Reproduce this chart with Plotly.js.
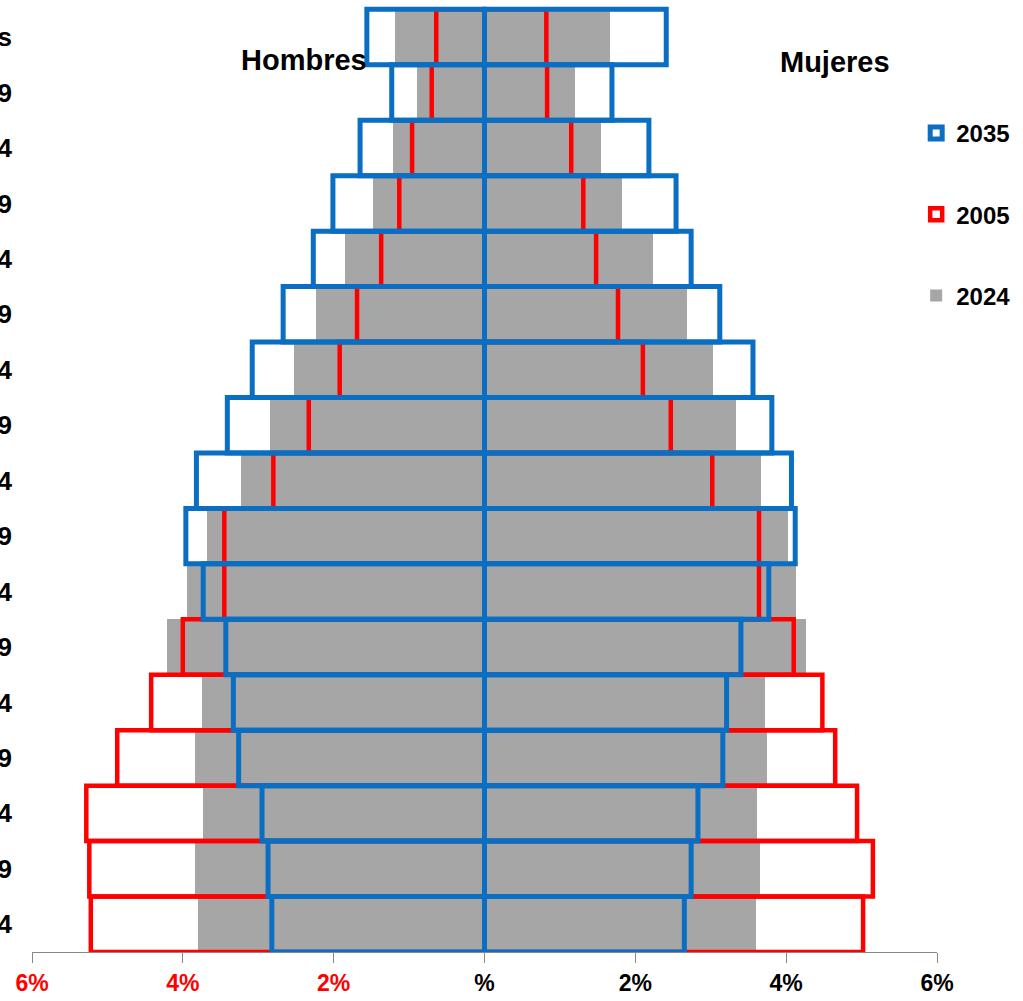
<!DOCTYPE html>
<html>
<head>
<meta charset="utf-8">
<script src="https://cdn.plot.ly/plotly-3.0.1.min.js"></script>
<style>html,body{margin:0;padding:0;background:#fff;}#chart{width:1023px;height:1001px;}</style>
</head>
<body>
<div id="chart"></div>
<script>
// Age groups, bottom to top
const ageGroups = ['0-4','5-9','10-14','15-19','20-24','25-29','30-34','35-39','40-44','45-49','50-54','55-59','60-64','65-69','70-74','75-79','80 y más'];

// Percent of total population (men drawn to the left)
const men2024   = [3.80, 3.84, 3.73, 3.84, 3.75, 4.21, 3.95, 3.68, 3.23, 2.84, 2.53, 2.24, 1.85, 1.48, 1.21, 0.90, 1.19];
const women2024 = [3.60, 3.65, 3.61, 3.75, 3.72, 4.26, 4.13, 4.03, 3.67, 3.34, 3.03, 2.68, 2.23, 1.82, 1.55, 1.20, 1.66];
const men2005   = [5.22, 5.24, 5.28, 4.87, 4.42, 4.00, 3.45, 3.45, 2.80, 2.33, 1.92, 1.69, 1.37, 1.13, 0.96, 0.70, 0.64];
const women2005 = [5.02, 5.15, 4.94, 4.65, 4.48, 4.10, 3.64, 3.64, 3.02, 2.47, 2.10, 1.77, 1.48, 1.31, 1.15, 0.83, 0.82];
const men2035   = [2.82, 2.87, 2.95, 3.26, 3.33, 3.43, 3.73, 3.96, 3.82, 3.41, 3.08, 2.67, 2.27, 2.01, 1.65, 1.23, 1.56];
const women2035 = [2.65, 2.74, 2.83, 3.16, 3.21, 3.40, 3.77, 4.12, 4.07, 3.81, 3.56, 3.12, 2.74, 2.54, 2.18, 1.69, 2.41];

const xTickVals = [-6, -4, -2, 0, 2, 4, 6];
const xTickText = ['<span style="color:#ff0000">6%</span>', '<span style="color:#ff0000">4%</span>', '<span style="color:#ff0000">2%</span>', '%', '2%', '4%', '6%'];

const FONT = 'Liberation Sans, Arial, sans-serif';
const GRAY = '#a6a6a6', RED = '#ff0000', BLUE = '#0a6ec2';
const neg = a => a.map(v => -v);

function bar(x, name, fill, line, lw, show, rank) {
  return {
    type: 'bar', orientation: 'h', x: x, y: ageGroups, width: 1,
    name: name, legendgroup: name, showlegend: show, legendrank: rank,
    marker: {color: fill, line: {color: line, width: lw}},
    hoverinfo: 'skip'
  };
}

const data = [
  bar(neg(men2024), '2024', GRAY, GRAY, 0, true, 3),
  bar(women2024, '2024', GRAY, GRAY, 0, false, 3),
  bar(neg(men2005), '2005', 'rgba(255,255,255,0)', RED, 4.5, true, 2),
  bar(women2005, '2005', 'rgba(255,255,255,0)', RED, 4.5, false, 2),
  bar(neg(men2035), '2035', 'rgba(255,255,255,0)', BLUE, 5, true, 1),
  bar(women2035, '2035', 'rgba(255,255,255,0)', BLUE, 5, false, 1)
];

const yRange = [-0.5, 16.56];

const layout = {
  width: 1023, height: 1001,
  margin: {l: 32, r: 86, t: 6, b: 49},
  paper_bgcolor: '#ffffff', plot_bgcolor: '#ffffff',
  barmode: 'overlay', bargap: 0,
  font: {family: FONT, color: '#000'},
  xaxis: {
    range: [-6, 6], tickmode: 'array', tickvals: xTickVals, ticktext: xTickText,
    showgrid: false, zeroline: false, showline: true, linecolor: '#888888', linewidth: 1,
    ticks: 'outside', ticklen: 10, tickcolor: '#888888',
    tickfont: {family: FONT, size: 23, weight: 700, color: '#000'}
  },
  yaxis: {
    type: 'category', categoryorder: 'array', categoryarray: ageGroups,
    range: yRange, showgrid: false, zeroline: false, showline: false, ticks: '',
    ticklabelstandoff: 19, automargin: false,
    tickfont: {family: FONT, size: 26, weight: 700, color: '#000'}
  },
  yaxis2: {
    overlaying: 'y', anchor: 'free', position: 0.5, side: 'left',
    range: yRange, tickmode: 'array', tickvals: ageGroups.map((_, i) => i),
    showticklabels: false, ticks: 'inside', ticklen: 5, tickcolor: '#1b3d6b', tickwidth: 1,
    showline: true, linecolor: '#0d4a8c', linewidth: 2,
    showgrid: false, zeroline: false
  },
  showlegend: true,
  legend: {
    x: 0.977, xanchor: 'left', y: 0.889, yanchor: 'top',
    traceorder: 'grouped', tracegroupgap: 47,
    font: {family: FONT, size: 24, weight: 700, color: '#000'},
    bgcolor: 'rgba(0,0,0,0)'
  },
  annotations: [
    {text: 'Hombres', x: -2.4, xref: 'x', y: 0.943, yref: 'paper', yanchor: 'middle', showarrow: false,
     font: {family: FONT, size: 29, weight: 700, color: '#000'}},
    {text: 'Mujeres', x: 4.65, xref: 'x', y: 0.941, yref: 'paper', yanchor: 'middle', showarrow: false,
     font: {family: FONT, size: 29, weight: 700, color: '#000'}}
  ]
};

Plotly.newPlot('chart', data, layout, {displayModeBar: false, staticPlot: true});
</script>
</body>
</html>
